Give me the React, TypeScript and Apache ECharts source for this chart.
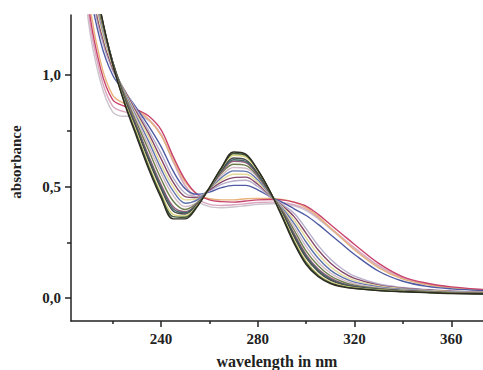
import React, { useEffect, useRef } from "react";
import * as echarts from "echarts";

const wavelengths = [206, 210, 215, 220, 225, 230, 235, 240, 245, 250, 255, 260, 265, 270, 275, 280, 285, 290, 295, 300, 305, 310, 315, 320, 330, 340, 350, 360, 375];

const s00 = [2.0, 1.58, 1.29, 1.05, 0.87, 0.72, 0.575, 0.45, 0.355, 0.355, 0.41, 0.495, 0.585, 0.655, 0.645, 0.575, 0.48, 0.365, 0.245, 0.15, 0.095, 0.065, 0.05, 0.042, 0.033, 0.028, 0.024, 0.02, 0.018];
const s0a = [1.99, 1.57, 1.285, 1.05, 0.875, 0.73, 0.585, 0.46, 0.365, 0.362, 0.413, 0.494, 0.582, 0.648, 0.64, 0.573, 0.48, 0.37, 0.252, 0.157, 0.1, 0.068, 0.052, 0.044, 0.034, 0.029, 0.025, 0.021, 0.019];
const s01 = [1.98, 1.56, 1.28, 1.05, 0.88, 0.74, 0.595, 0.47, 0.375, 0.368, 0.416, 0.493, 0.58, 0.64, 0.632, 0.57, 0.48, 0.375, 0.26, 0.165, 0.105, 0.072, 0.055, 0.046, 0.036, 0.03, 0.026, 0.022, 0.02];
const s02 = [1.97, 1.55, 1.28, 1.06, 0.89, 0.755, 0.615, 0.49, 0.39, 0.377, 0.42, 0.492, 0.575, 0.628, 0.62, 0.56, 0.475, 0.385, 0.275, 0.18, 0.118, 0.08, 0.06, 0.05, 0.038, 0.032, 0.027, 0.023, 0.02];
const s0b = [1.965, 1.545, 1.275, 1.06, 0.895, 0.762, 0.625, 0.5, 0.4, 0.382, 0.422, 0.491, 0.57, 0.62, 0.613, 0.555, 0.473, 0.388, 0.282, 0.188, 0.124, 0.085, 0.063, 0.052, 0.039, 0.032, 0.027, 0.023, 0.02];
const s03 = [1.96, 1.54, 1.27, 1.06, 0.9, 0.77, 0.635, 0.51, 0.41, 0.387, 0.424, 0.49, 0.565, 0.613, 0.607, 0.55, 0.472, 0.39, 0.29, 0.195, 0.13, 0.09, 0.066, 0.053, 0.04, 0.033, 0.028, 0.024, 0.021];
const s04 = [1.95, 1.52, 1.26, 1.06, 0.91, 0.785, 0.66, 0.535, 0.435, 0.397, 0.427, 0.49, 0.56, 0.6, 0.595, 0.545, 0.47, 0.395, 0.305, 0.21, 0.145, 0.1, 0.073, 0.058, 0.043, 0.035, 0.029, 0.025, 0.022];
const s05 = [1.94, 1.51, 1.25, 1.05, 0.915, 0.8, 0.68, 0.56, 0.46, 0.41, 0.43, 0.49, 0.55, 0.585, 0.582, 0.54, 0.468, 0.4, 0.32, 0.23, 0.16, 0.112, 0.082, 0.064, 0.046, 0.037, 0.03, 0.026, 0.023];
const s06 = [1.93, 1.5, 1.24, 1.05, 0.92, 0.81, 0.7, 0.58, 0.48, 0.425, 0.44, 0.49, 0.54, 0.57, 0.568, 0.53, 0.465, 0.405, 0.335, 0.25, 0.178, 0.125, 0.092, 0.071, 0.05, 0.039, 0.032, 0.027, 0.024];
const s07 = [1.92, 1.49, 1.22, 1.04, 0.925, 0.82, 0.72, 0.6, 0.5, 0.44, 0.445, 0.49, 0.53, 0.555, 0.555, 0.52, 0.462, 0.41, 0.35, 0.27, 0.196, 0.14, 0.103, 0.079, 0.054, 0.041, 0.034, 0.028, 0.025];
const s08 = [1.91, 1.47, 1.2, 1.03, 0.93, 0.83, 0.735, 0.625, 0.52, 0.455, 0.45, 0.485, 0.52, 0.54, 0.542, 0.51, 0.46, 0.415, 0.365, 0.29, 0.215, 0.157, 0.116, 0.088, 0.058, 0.044, 0.036, 0.03, 0.026];
const s09 = [1.9, 1.45, 1.18, 1.02, 0.93, 0.84, 0.75, 0.65, 0.54, 0.47, 0.455, 0.48, 0.51, 0.525, 0.528, 0.5, 0.457, 0.42, 0.38, 0.31, 0.235, 0.175, 0.13, 0.098, 0.063, 0.047, 0.038, 0.031, 0.027];
const s10 = [1.88, 1.42, 1.15, 1.0, 0.925, 0.85, 0.77, 0.68, 0.57, 0.49, 0.465, 0.475, 0.495, 0.505, 0.505, 0.485, 0.455, 0.43, 0.4, 0.37, 0.33, 0.285, 0.24, 0.195, 0.12, 0.075, 0.052, 0.041, 0.032];
const s11 = [1.85, 1.36, 1.06, 0.91, 0.87, 0.845, 0.8, 0.73, 0.62, 0.52, 0.465, 0.445, 0.44, 0.44, 0.445, 0.447, 0.447, 0.442, 0.43, 0.405, 0.365, 0.315, 0.265, 0.215, 0.135, 0.085, 0.06, 0.046, 0.035];
const s12 = [1.9, 1.32, 1.03, 0.89, 0.86, 0.845, 0.815, 0.755, 0.635, 0.53, 0.465, 0.44, 0.432, 0.43, 0.435, 0.44, 0.442, 0.44, 0.43, 0.412, 0.375, 0.33, 0.285, 0.24, 0.155, 0.095, 0.066, 0.05, 0.037];
const s13 = [1.8, 1.28, 1.0, 0.86, 0.835, 0.83, 0.8, 0.735, 0.615, 0.505, 0.445, 0.42, 0.415, 0.418, 0.423, 0.428, 0.43, 0.428, 0.418, 0.398, 0.36, 0.315, 0.27, 0.225, 0.145, 0.09, 0.062, 0.047, 0.035];
const s14 = [1.75, 1.24, 0.97, 0.835, 0.815, 0.815, 0.795, 0.73, 0.61, 0.5, 0.435, 0.41, 0.405, 0.408, 0.414, 0.42, 0.423, 0.422, 0.413, 0.392, 0.355, 0.31, 0.265, 0.22, 0.14, 0.088, 0.06, 0.045, 0.034];

const spectra = [s14, s13, s11, s12, s10, s09, s08, s07, s06, s05, s04, s03, s0b, s02, s01, s0a, s00];
const colors = ["#cbc4cc", "#dba6c0", "#e8b27a", "#c8436c", "#4f5ba3", "#b7aecb", "#86496c", "#e4dc98", "#5f74ad", "#d2b9c6", "#6f7f4c", "#9a5a7a", "#3f6a6a", "#4a4a4a", "#d8d07a", "#3d5a35", "#2c2a22"];

const xLabels = [240, 280, 320, 360];
const xMinorTicks = [220, 260, 300, 340];
const yLabels = [0, 0.5, 1.0];
const yMinorTicks = [0.25, 0.75];

export default function App() {
  const ref = useRef<HTMLDivElement>(null);
  useEffect(() => {
    if (!ref.current) return;
    const chart = echarts.init(ref.current, undefined, { renderer: "svg" });
    const font = "Liberation Serif";
    const xMin = 202.8, xMax = 373.1, yMin = -0.1031, yMax = 1.2691;
    const series = spectra.map((s, i) => ({
      type: "line",
      name: "spectrum " + (i + 1),
      data: wavelengths.map((w, j) => [w, s[j]]),
      showSymbol: false,
      smooth: 0.35,
      clip: true,
      lineStyle: { color: colors[i], width: 1.4 },
      xAxisIndex: 0,
      yAxisIndex: 0,
    }));
    chart.setOption({
      animation: false,
      grid: { left: 71, top: 15, right: 0, bottom: 49, outerBoundsMode: "none", containLabel: false },
      xAxis: [
        {
          type: "value", min: xMin, max: xMax,
          axisLine: { show: true, onZero: false, lineStyle: { color: "#222", width: 1.5 } },
          axisTick: { show: true, length: 6, customValues: xLabels, lineStyle: { color: "#222", width: 1.5 } },
          axisLabel: { customValues: xLabels, margin: 10, fontFamily: font, fontWeight: "bold", fontSize: 15, color: "#222" },
          splitLine: { show: false },
          name: "wavelength in nm", nameLocation: "middle", nameGap: 32,
          nameTextStyle: { fontFamily: font, fontWeight: "bold", fontSize: 16, color: "#222" },
        },
        {
          type: "value", min: xMin, max: xMax, position: "bottom",
          axisLine: { show: false, onZero: false },
          axisTick: { show: true, length: 3, customValues: xMinorTicks, lineStyle: { color: "#222", width: 1.5 } },
          axisLabel: { show: false },
          splitLine: { show: false },
        },
      ],
      yAxis: [
        {
          type: "value", min: yMin, max: yMax,
          axisLine: { show: true, onZero: false, lineStyle: { color: "#222", width: 1.5 } },
          axisTick: { show: true, length: 6, customValues: yLabels, lineStyle: { color: "#222", width: 1.5 } },
          axisLabel: {
            customValues: yLabels, margin: 10, fontFamily: font, fontWeight: "bold", fontSize: 15, color: "#222",
            formatter: (v: number) => v.toFixed(1).replace(".", ","),
          },
          splitLine: { show: false },
        },
        {
          type: "value", min: yMin, max: yMax, position: "left",
          axisLine: { show: false, onZero: false },
          axisTick: { show: true, length: 4, customValues: yMinorTicks, lineStyle: { color: "#222", width: 1.5 } },
          axisLabel: { show: false },
          splitLine: { show: false },
        },
      ],
      graphic: [
        {
          type: "text", x: 16, y: 162, rotation: Math.PI / 2,
          style: { text: "absorbance", fontFamily: font, fontWeight: "bold", fontSize: 15, fill: "#222", align: "center", verticalAlign: "middle" },
        },
      ],
      series,
    });
    return () => chart.dispose();
  }, []);
  return <div ref={ref} style={{ position: "absolute", left: 0, top: 0, width: 483, height: 370, background: "#fff" }} />;
}
